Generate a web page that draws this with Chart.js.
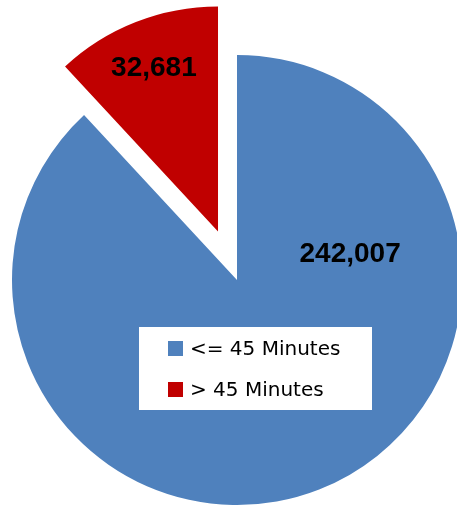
<!DOCTYPE html>
<html><head><meta charset="utf-8">
<script src="https://cdn.jsdelivr.net/npm/chart.js@4/dist/chart.umd.min.js"></script>
<style>html,body{margin:0;padding:0;background:#fff;overflow:hidden}canvas{display:block}</style>
</head><body>
<canvas id="c" width="457" height="506"></canvas>
<script>
const categories = ['<= 45 Minutes', '> 45 Minutes'];
const values = [242007, 32681];
const valueLabels = ['242,007', '32,681'];
const colors = ['#4F81BD', '#C00000'];

const explodePlugin = {
  id: 'explode',
  afterDatasetsUpdate(chart, args, opts) {
    const meta = chart.getDatasetMeta(0);
    meta.data.forEach((arc, i) => {
      const d = (opts.distances || [])[i] || 0;
      if (!d) return;
      const mid = (arc.startAngle + arc.endAngle) / 2;
      arc.x += Math.cos(mid) * d;
      arc.y += Math.sin(mid) * d;
    });
  }
};

const valueLabelPlugin = {
  id: 'valueLabels',
  afterDatasetsDraw(chart, args, opts) {
    const ctx = chart.ctx;
    const meta = chart.getDatasetMeta(0);
    ctx.save();
    ctx.font = opts.font;
    ctx.fillStyle = opts.color;
    ctx.textAlign = 'center';
    ctx.textBaseline = 'middle';
    meta.data.forEach((arc, i) => {
      const p = opts.placement[i];
      const ang = p.angle == null ? (arc.startAngle + arc.endAngle) / 2 : p.angle * Math.PI / 180;
      const r = p.r * arc.outerRadius;
      ctx.fillText(valueLabels[i], arc.x + Math.cos(ang) * r, arc.y + Math.sin(ang) * r);
    });
    ctx.restore();
  }
};

const boxLegendPlugin = {
  id: 'boxLegend',
  afterDatasetsDraw(chart, args, o) {
    const ctx = chart.ctx;
    const ds = chart.data.datasets[0];
    ctx.save();
    ctx.fillStyle = '#ffffff';
    ctx.fillRect(o.box.x, o.box.y, o.box.w, o.box.h);
    ctx.font = o.font;
    ctx.textAlign = 'left';
    ctx.textBaseline = 'middle';
    chart.data.labels.forEach((lab, i) => {
      const cy = o.firstY + i * o.rowGap;
      ctx.fillStyle = ds.backgroundColor[i];
      ctx.fillRect(o.itemX, cy - o.square / 2, o.square, o.square);
      ctx.fillStyle = o.color;
      ctx.fillText(lab, o.itemX + o.square + o.gap, cy + o.textDy);
    });
    ctx.restore();
  }
};

new Chart(document.getElementById('c'), {
  type: 'pie',
  data: {
    labels: categories,
    datasets: [{
      data: values,
      backgroundColor: colors,
      borderWidth: 0,
      clip: false
    }]
  },
  options: {
    responsive: false,
    animation: false,
    devicePixelRatio: 1,
    radius: 225,
    layout: { padding: { left: 17, top: 54, right: 0, bottom: 0 } },
    plugins: {
      legend: { display: false },
      tooltip: { enabled: false },
      explode: { distances: [0, 52] },
      valueLabels: {
        font: 'bold 28px "Liberation Sans", Arial, sans-serif',
        color: '#000000',
        placement: [{ angle: -13, r: 0.516 }, { angle: null, r: 0.78 }]
      },
      boxLegend: {
        box: { x: 139, y: 327, w: 233, h: 83 },
        itemX: 168, firstY: 348.5, rowGap: 41, square: 15, gap: 7, textDy: 1,
        font: '20px "DejaVu Sans", sans-serif', color: '#000000'
      }
    }
  },
  plugins: [explodePlugin, valueLabelPlugin, boxLegendPlugin]
});
</script>
</body></html>
